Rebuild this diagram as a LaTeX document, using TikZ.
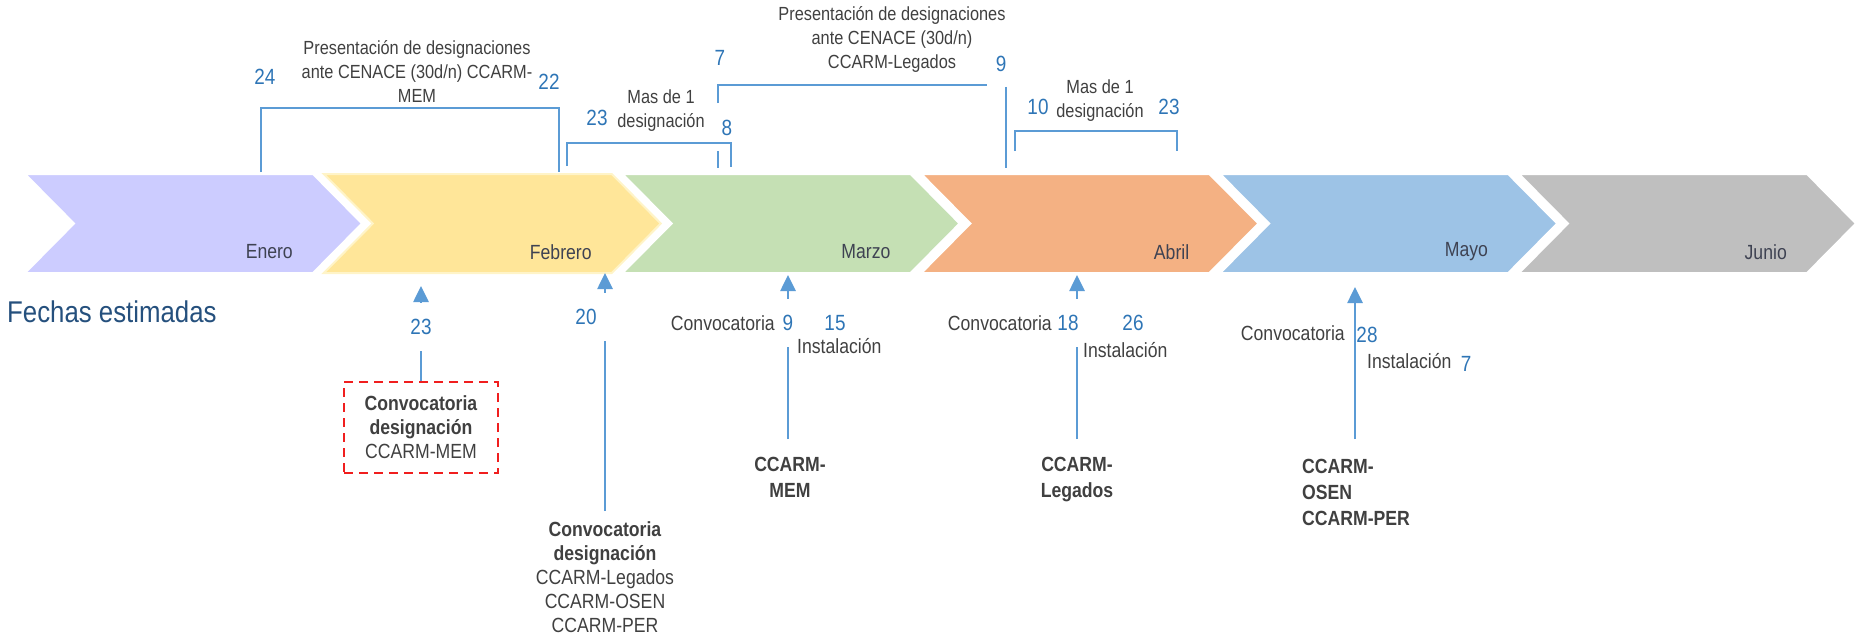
\documentclass[tikz,border=0pt]{standalone}
\usepackage{fontspec}
\setmainfont{Liberation Sans}[FakeStretch=0.86]
\usetikzlibrary{arrows.meta}

\definecolor{txt}{RGB}{64,64,64}
\definecolor{num}{RGB}{46,117,182}
\definecolor{lin}{RGB}{91,155,213}
\definecolor{mon}{RGB}{62,66,82}
\definecolor{fech}{RGB}{37,80,125}
\definecolor{boxred}{RGB}{240,30,30}
\definecolor{cene}{RGB}{204,204,255}
\definecolor{cfeb}{RGB}{255,230,153}
\definecolor{cfebe}{RGB}{255,244,200}
\definecolor{cmar}{RGB}{197,224,180}
\definecolor{cabr}{RGB}{244,177,131}
\definecolor{cmay}{RGB}{157,195,230}
\definecolor{cjun}{RGB}{191,191,191}

\begin{document}
\begin{tikzpicture}[x=1pt, y=-1pt,
  every node/.style={inner sep=0pt, text=txt, font=\fontsize{20.5}{24}\selectfont},
  num/.style={text=num, font=\fontsize{22}{24}\selectfont},
  gapnum/.style={num, fill=white, minimum height=48pt, inner xsep=12pt},
  small/.style={font=\fontsize{19}{24}\selectfont, align=center},
  month/.style={anchor=east, text=mon},
  bold/.style={font=\fontsize{20.5}{26}\selectfont\bfseries, align=center},
  bracket/.style={draw=lin, line width=1.5pt},
  up/.style={draw=lin, line width=2.6pt, -{Triangle[width=15pt,length=16pt]}}]
  \useasboundingbox (0,0) rectangle (1864,634);

  % months
  \foreach \m/\lab/\col/\edge [count=\i from 0] in {ene/Enero/cene/white, feb/Febrero/cfeb/cfebe, mar/Marzo/cmar/white, abr/Abril/cabr/white, may/Mayo/cmay/white, jun/Junio/cjun/white} {
    \pgfmathsetmacro\L{25+298.8*\i}
    \filldraw[fill=\col, draw=\edge, line width=2pt] (\L,174) -- ++(288,0) -- ++(49,49.5) -- ++(-49,49.5) -- ++(-288,0) -- ++(49,-49.5) -- cycle;
    \node[month] (\m) at (\L+268,252) {\lab};
  }

  \node[anchor=west, text=fech, font=\fontsize{30}{36}\selectfont] (fechas) at (7,312) {Fechas estimadas};

  % brackets above
  \coordinate (b1a) at (261,172);
  \coordinate (b1b) at (559,108);
  \draw[bracket] (b1a) |- (b1b) -- (559,172);
  \coordinate (b2a) at (567,166);
  \coordinate (b2b) at (731,143);
  \draw[bracket] (b2a) |- (b2b) -- (731,167);
  \coordinate (b3a) at (718,103);
  \coordinate (b3b) at (987,85);
  \draw[bracket] (b3a) |- (b3b);
  \draw[bracket] (718,151) -- (718,168);
  \draw[bracket] (1006,87) -- (1006,168);
  \coordinate (b4a) at (1015,151);
  \coordinate (b4b) at (1177,131);
  \draw[bracket] (b4a) |- (b4b) -- (1177,151);

  \node[num] (n24) at (265,77) {24};
  \node[small] (t1) at (417,72) {Presentación de designaciones\\ante CENACE (30d/n) CCARM-\\MEM};
  \node[num] (n22) at (549,82) {22};
  \node[num] (n23a) at (597,118) {23};
  \node[small] (t2) at (661,111) {Mas de 1\\designación};
  \node[num] (n8) at (727,128) {8};
  \node[num] (n7) at (720,58) {7};
  \node[small] (t3) at (892,39) {Presentación de designaciones\\ante CENACE (30d/n)\\CCARM-Legados};
  \node[num] (n9) at (1001,64) {9};
  \node[num] (n10) at (1038,107) {10};
  \node[small] (t4) at (1100,101) {Mas de 1\\designación};
  \node[num] (n23b) at (1169,107) {23};

  % arrows below
  \coordinate (a23) at (421,286);
  \coordinate (a20) at (605,273);
  \coordinate (amar) at (788,275);
  \coordinate (aabr) at (1077,275);
  \coordinate (amay) at (1355,287);

  \node[draw=boxred, dash pattern=on 9pt off 6pt, line width=2pt, minimum width=154pt, minimum height=91pt, align=center] (box) at (421,427.5) {\textbf{Convocatoria}\\\textbf{designación}\\CCARM-MEM};
  \node[anchor=north, align=center] (c20) at (605,521) {\textbf{Convocatoria}\\\textbf{designación}\\CCARM-Legados\\CCARM-OSEN\\CCARM-PER};
  \node[bold, anchor=north] (cmem) at (790,457) {CCARM-\\MEM};
  \node[bold, anchor=north] (cleg) at (1077,457) {CCARM-\\Legados};
  \node[bold, align=left, anchor=north west] (cosen) at (1302,459) {CCARM-\\OSEN\\CCARM-PER};

  \draw[up] (box) -- (a23);
  \draw[up, shorten <=10pt] (c20) -- (a20);
  \draw[up, shorten <=18pt] (amar |- cmem.north) -- (amar);
  \draw[up, shorten <=18pt] (cleg) -- (aabr);
  \draw[up, shorten <=20pt] (amay |- cosen.north) -- (amay);

  \node[gapnum] (d23) at (421,327) {23};
  \node[gapnum] (d20) at (586,317) {20};
  \node[gapnum] (d9) at (788,323) {9};
  \node[gapnum] (d18) at (1068,323) {18};
  \node[num] (d15) at (835,323) {15};
  \node[num] (d26) at (1133,323) {26};
  \node[num] (d28) at (1367,335) {28};
  \node[num] (d7) at (1466,364) {7};

  \node[anchor=east] (conv1) at (775,323) {Convocatoria};
  \node[anchor=west] (ins1) at (797,346) {Instalación};
  \node[anchor=east] (conv2) at (1052,323) {Convocatoria};
  \node[anchor=west] (ins2) at (1083,350) {Instalación};
  \node[anchor=east] (conv3) at (1345,333) {Convocatoria};
  \node[anchor=west] (ins3) at (1367,361) {Instalación};
\end{tikzpicture}
\end{document}
